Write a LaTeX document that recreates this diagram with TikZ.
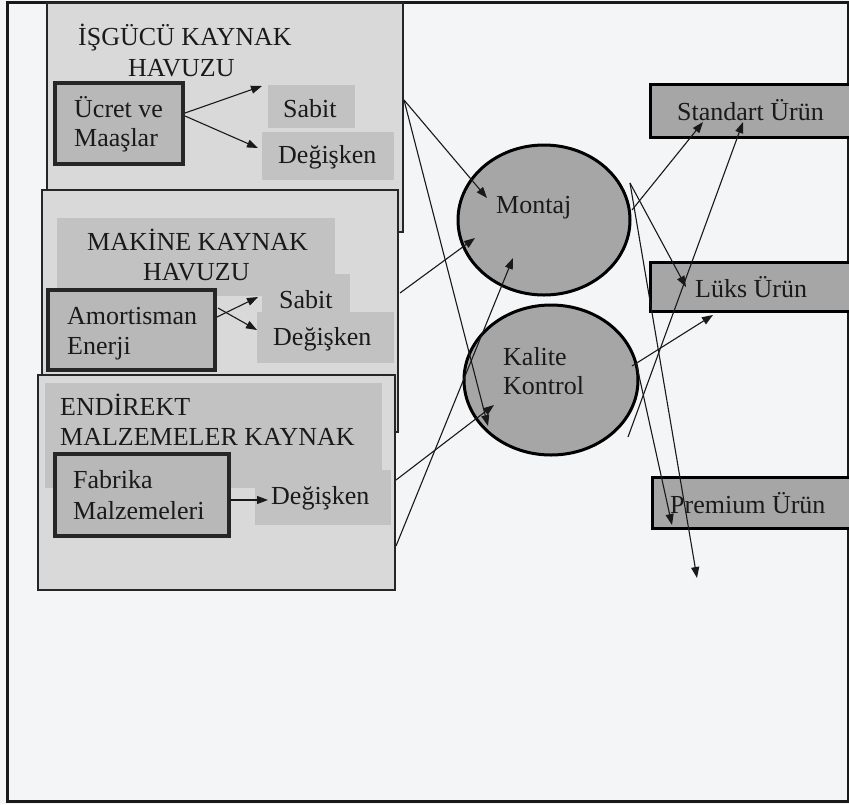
\documentclass[tikz,border=0pt]{standalone}
\usepackage{fontspec}
\setmainfont{Liberation Serif}
\usetikzlibrary{arrows.meta,shapes.geometric}
\definecolor{bgc}{HTML}{F4F5F7}
\definecolor{poolc}{HTML}{D9D9D9}
\definecolor{hdrc}{HTML}{C2C2C2}
\definecolor{itemc}{HTML}{B8B8B8}
\definecolor{procc}{HTML}{A6A6A6}
\definecolor{txtc}{HTML}{1A1A1A}
\begin{document}
\begin{tikzpicture}[x=1pt,y=-1pt,
  frame/.style={draw=black!90, line width=3pt},
  pool/.style={draw=black!85, line width=2.2pt, fill=poolc, anchor=north west, inner sep=0pt, outer sep=0pt},
  hdr/.style={fill=hdrc, anchor=north west, inner sep=0pt, outer sep=0pt},
  item/.style={draw=black!85, line width=3.5pt, fill=itemc, anchor=north west, inner sep=0pt, outer sep=0pt},
  proc/.style={ellipse, draw=black, line width=3pt, fill=procc, inner sep=0pt, outer sep=0pt},
  prod/.style={draw=black, line width=3pt, fill=procc, anchor=north west, inner sep=0pt, outer sep=0pt},
  txt/.style={anchor=base west, inner sep=0pt, font=\fontsize{26}{30}\selectfont, text=txtc},
  conn/.style={draw=black!90, line width=1.1pt, -{Triangle[length=11pt,width=8pt]}}
]
\useasboundingbox (0,0) rectangle (849,804);
\fill[bgc] (0,0) rectangle (849,804);
\draw[frame] (7,2) rectangle (848,801);

% ---------- Pool 1 ----------
\node[pool, minimum width=356pt, minimum height=229pt] (pool1) at (47,3) {};
\node[hdr, minimum width=87pt, minimum height=43pt] (sab1) at (268,85) {};
\node[hdr, minimum width=132pt, minimum height=48pt] (deg1) at (262,132) {};
\node[item, minimum width=128pt, minimum height=81pt] (ucret) at (55,83) {};
\node[txt] (t1a) at (78,45) {İŞGÜCÜ KAYNAK};
\node[txt] (t1b) at (128,76) {HAVUZU};
\node[txt] (t1c) at (74,117) {Ücret ve};
\node[txt] (t1d) at (74,146) {Maaşlar};
\node[txt] (t1e) at (283,117) {Sabit};
\node[txt] (t1f) at (278,163) {Değişken};

% ---------- Pool 2 ----------
\node[pool, minimum width=356pt, minimum height=242pt] (pool2) at (42,190) {};
\node[hdr, minimum width=278pt, minimum height=78pt] (hdr2) at (57,218) {};
\node[hdr, minimum width=88pt, minimum height=44pt] (sab2) at (262,274) {};
\node[hdr, minimum width=137pt, minimum height=51pt] (deg2) at (257,312) {};
\node[item, minimum width=167pt, minimum height=80pt] (amort) at (48,290) {};
\node[txt] (t2a) at (87,250) {MAKİNE KAYNAK};
\node[txt] (t2b) at (143,280) {HAVUZU};
\node[txt] (t2c) at (67,324) {Amortisman};
\node[txt] (t2d) at (67,354) {Enerji};
\node[txt] (t2e) at (279,308) {Sabit};
\node[txt] (t2f) at (273,345) {Değişken};

% ---------- Pool 3 ----------
\node[pool, minimum width=357pt, minimum height=215pt] (pool3) at (38,375) {};
\node[hdr, minimum width=337pt, minimum height=105pt] (hdr3) at (45,383) {};
\node[hdr, minimum width=136pt, minimum height=55pt] (deg3) at (255,470) {};
\node[item, minimum width=174pt, minimum height=82pt] (fabr) at (55,454) {};
\node[txt] (t3a) at (60,415) {ENDİREKT};
\node[txt] (t3b) at (60,445) {MALZEMELER KAYNAK};
\node[txt] (t3c) at (73,488) {Fabrika};
\node[txt] (t3d) at (73,519) {Malzemeleri};
\node[txt] (t3e) at (271,504) {Değişken};

% ---------- Activities ----------
\node[proc, minimum width=172pt, minimum height=150pt] (montaj) at (544,220) {};
\node[proc, minimum width=174pt, minimum height=150pt] (kalite) at (551,380) {};
\node[txt] (tm) at (496,213) {Montaj};
\node[txt] (tk1) at (503,365) {Kalite};
\node[txt] (tk2) at (503,394) {Kontrol};

% ---------- Products ----------
\node[prod, minimum width=212pt, minimum height=53pt] (std) at (650,84) {};
\node[prod, minimum width=212pt, minimum height=49pt] (luks) at (650,262) {};
\node[prod, minimum width=210pt, minimum height=51pt] (prem) at (652,477) {};
\node[txt] (ts) at (677,120) {Standart Ürün};
\node[txt] (tl) at (695,297) {Lüks Ürün};
\node[txt] (tp) at (670,513) {Premium Ürün};

% ---------- inner arrows ----------
\coordinate (u1) at (185,113); \coordinate (u1e) at (262,86);
\coordinate (u2) at (185,116); \coordinate (u2e) at (258,148);
\coordinate (a1) at (217,317); \coordinate (a1e) at (258,297);
\coordinate (a2) at (218,308); \coordinate (a2e) at (257,330);
\coordinate (f1) at (230,500); \coordinate (f1e) at (268,500);
\draw[conn] (u1) -- (u1e);
\draw[conn] (u2) -- (u2e);
\draw[conn] (a1) -- (a1e);
\draw[conn] (a2) -- (a2e);
\draw[conn] (f1) -- (f1e);

% ---------- connectors ----------
\coordinate (p1) at (404,100);
\coordinate (m1) at (487,198);
\coordinate (k1) at (488,426);
\coordinate (p2) at (400,293);
\coordinate (m2) at (475,238);
\coordinate (p3a) at (396,480);
\coordinate (k2) at (494,405);
\coordinate (p3b) at (396,546);
\coordinate (m3) at (513,258);
\coordinate (mo1) at (632,210);
\coordinate (s1) at (703,122);
\coordinate (mo2) at (630,183);
\coordinate (l1) at (686,287);
\coordinate (x1) at (697,578);
\coordinate (ko1) at (632,366);
\coordinate (l2) at (713,315);
\coordinate (ko2) at (628,437);
\coordinate (s2) at (743,122);
\coordinate (ko3) at (636,362);
\coordinate (pr1) at (672,525);
\draw[conn] (p1) -- (m1);
\draw[conn] (p1) -- (k1);
\draw[conn] (p2) -- (m2);
\draw[conn] (p3a) -- (k2);
\draw[conn] (p3b) -- (m3);
\draw[conn] (mo1) -- (s1);
\draw[conn] (mo2) -- (l1);
\draw[conn] (mo2) -- (x1);
\draw[conn] (ko1) -- (l2);
\draw[conn] (ko2) -- (s2);
\draw[conn] (ko3) -- (pr1);
\end{tikzpicture}
\end{document}
